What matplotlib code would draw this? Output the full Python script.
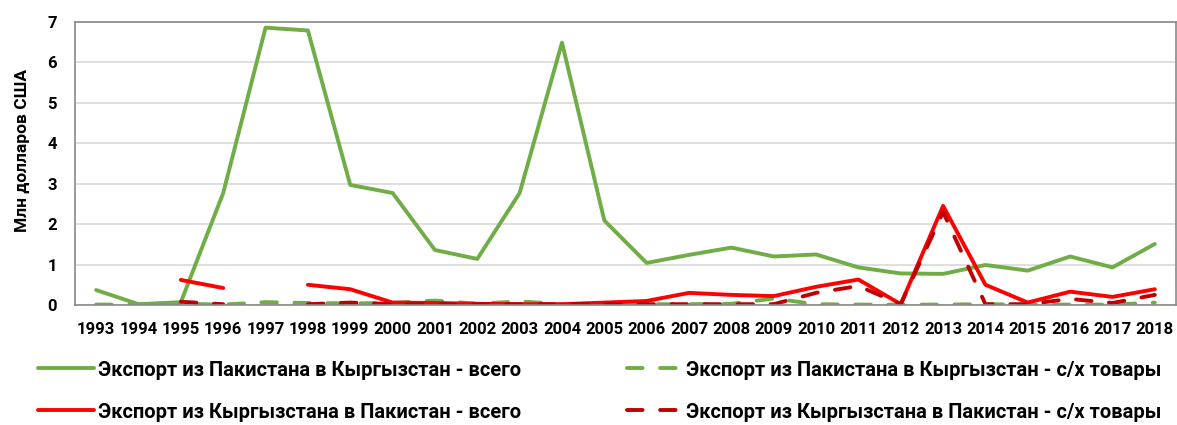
import numpy as np
import matplotlib.pyplot as plt

plt.rcParams['font.family'] = ['Roboto', 'DejaVu Sans']
plt.rcParams['font.weight'] = 'bold'

years = list(range(1993, 2019))
nan = np.nan

# Экспорт из Пакистана в Кыргызстан - всего
pk_kg_total = [0.37, 0.02, 0.07, 2.77, 6.86, 6.79, 2.97, 2.77, 1.36, 1.14,
               2.77, 6.49, 2.09, 1.04, 1.24, 1.42, 1.20, 1.25, 0.93, 0.78,
               0.77, 0.99, 0.85, 1.20, 0.93, 1.51]
# Экспорт из Пакистана в Кыргызстан - с/х товары
pk_kg_agri = [0.01, 0.01, 0.03, 0.01, 0.07, 0.05, 0.04, 0.05, 0.11, 0.03,
              0.09, 0.02, 0.02, 0.02, 0.02, 0.03, 0.16, 0.02, 0.01, 0.01,
              0.01, 0.02, 0.01, 0.01, 0.01, 0.06]
# Экспорт из Кыргызстана в Пакистан - всего
kg_pk_total = [nan, nan, 0.62, 0.42, nan, 0.50, 0.39, 0.06, 0.05, 0.03,
               0.02, 0.02, 0.06, 0.10, 0.30, 0.25, 0.22, 0.45, 0.63, 0.02,
               2.45, 0.50, 0.06, 0.33, 0.20, 0.39]
# Экспорт из Кыргызстана в Пакистан - с/х товары
kg_pk_agri = [nan, nan, 0.08, 0.02, nan, 0.02, 0.06, 0.02, 0.02, 0.02,
              0.02, 0.02, 0.02, 0.02, 0.02, 0.02, 0.02, 0.30, 0.47, 0.02,
              2.30, 0.02, 0.02, 0.15, 0.05, 0.25]

labels = ["Экспорт из Пакистана в Кыргызстан - всего",
          "Экспорт из Пакистана в Кыргызстан - с/х товары",
          "Экспорт из Кыргызстана в Пакистан - всего",
          "Экспорт из Кыргызстана в Пакистан - с/х товары"]

green = '#70AD47'
red = '#FF0000'
dark_red = '#C00000'

W, H = 1177, 425
fig = plt.figure(figsize=(W / 100, H / 100), dpi=100)
ax = fig.add_axes([75 / W, 120 / H, 1101 / W, 283 / H])

lw = 2.8
l1, = ax.plot(years, pk_kg_total, color=green, lw=lw, solid_capstyle='round')
l2, = ax.plot(years, pk_kg_agri, color=green, lw=lw, dashes=(4, 4.5),
              dash_capstyle='round')
l3, = ax.plot(years, kg_pk_total, color=red, lw=lw, solid_capstyle='round')
l4, = ax.plot(years, kg_pk_agri, color=dark_red, lw=lw, dashes=(4, 4.5),
              dash_capstyle='round')

ax.set_xlim(1992.5, 2018.5)
ax.set_ylim(0, 7)
ax.set_xticks(years)
ax.set_xticklabels([str(y) for y in years], fontsize=12, fontweight='bold')
ax.set_yticks(range(0, 8))
ax.set_yticklabels([str(v) for v in range(0, 8)], fontsize=12, fontweight='bold')
ax.tick_params(axis='y', length=0, pad=13)
ax.tick_params(axis='x', length=0, pad=12)
ax.grid(axis='y', color='#D9D9D9', lw=1.2)
ax.set_axisbelow(True)
for s in ax.spines.values():
    s.set_color('#898989')
    s.set_linewidth(1.2)

fig.text(22 / W, 1 - 150 / H, "Млн долларов США", rotation=90,
         ha='center', va='center', fontsize=12.5, fontweight='bold')

# legend: 2 columns x 2 rows, placed entry by entry
entries = [(l1, labels[0], 38, 370, 2.8, 0.2),
           (l2, labels[1], 627, 370, 2.5, 0.45),
           (l3, labels[2], 38, 412, 2.8, 0.2),
           (l4, labels[3], 627, 412, 2.5, 0.45)]
for h, lab, x, y, hl, tp in entries:
    leg = fig.legend([h], [lab], loc='center left',
                     bbox_to_anchor=(x / W, 1 - y / H),
                     frameon=False, borderpad=0, borderaxespad=0,
                     handlelength=hl, handletextpad=tp,
                     prop={'weight': 'bold', 'size': 14.5})

fig.savefig('out.png', dpi=100)
